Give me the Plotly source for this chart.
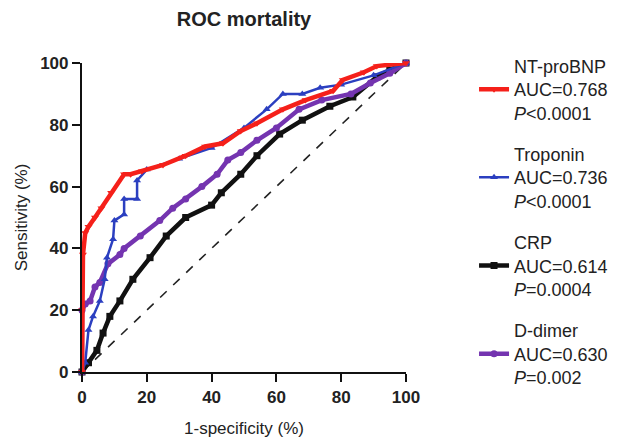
import plotly.graph_objects as go

# 1-specificity (%) and sensitivity (%)
fpr_nt = [0, 0, 0.3, 1, 2, 4, 6, 9, 13, 15, 18.5, 25, 32, 38, 43.5, 49, 54, 62, 69, 77.5, 80.5, 87, 91, 100]
tpr_nt = [0, 20, 38, 45, 47, 50, 53, 58, 64, 64, 65, 67, 70, 73, 74, 78, 80.5, 85, 88, 91, 94.5, 97, 99, 100]

fpr_tr = [0, 1, 2, 3.4, 5.5, 7, 7.7, 9.6, 10, 13, 13, 17, 17, 20, 30, 40, 50, 57, 62, 68, 73.5, 80, 90, 100]
tpr_tr = [0, 3, 13.6, 18, 23, 30, 37, 43, 49, 51, 56, 56, 62, 65.5, 69, 72.5, 79, 85, 90, 90, 92, 93, 96, 100]

fpr_crp = [0, 2, 4.6, 6.5, 8.6, 11.7, 15.7, 21, 26, 32, 40, 43, 49, 54, 61, 68, 76.5, 83.6, 91, 95, 100]
tpr_crp = [0, 3, 7, 12.6, 18, 23, 30, 37, 44, 50, 54, 58, 64, 70, 77, 81.5, 86, 89, 95.5, 97.7, 100]

fpr_dd = [0, 0, 1, 2.5, 4, 5.5, 8, 11.7, 13, 18, 24, 28, 32, 37, 41.7, 45, 49, 54, 60, 67, 74, 83, 89, 95, 100]
tpr_dd = [0, 20, 22, 23, 27.5, 29, 35, 38, 40, 44, 49, 53, 56, 60, 64, 68.6, 71, 75, 79, 85, 88, 90, 93.5, 96.7, 100]

names = ["NT-proBNP<br>AUC=0.768<br><i>P</i><0.0001",
         "Troponin<br>AUC=0.736<br><i>P</i><0.0001",
         "CRP<br>AUC=0.614<br><i>P</i>=0.0004",
         "D-dimer<br>AUC=0.630<br><i>P</i>=0.002"]
ticks = [0, 20, 40, 60, 80, 100]

fig = go.Figure()
fig.add_trace(go.Scatter(x=[0, 100], y=[0, 100], mode="lines", showlegend=False,
                         line=dict(color="#222222", width=1.6, dash="dash"), hoverinfo="skip"))

specs = [
    (fpr_crp, tpr_crp, names[2], "#111111", "square", 3, 4.5),
    (fpr_dd, tpr_dd, names[3], "#7434b0", "circle", 4, 4.5),
    (fpr_tr, tpr_tr, names[1], "#2b3fc0", "triangle-up", 2, 2.5),
    (fpr_nt, tpr_nt, names[0], "#f5201a", "triangle-down", 1, 4.5),
]
for x, y, n, c, sym, rank, w in specs:
    fig.add_trace(go.Scatter(
        x=x, y=y, name=n, mode="lines+markers", legendrank=rank, legendgroup=n,
        line=dict(color=c, width=w), marker=dict(symbol=sym, size=7, color=c),
        cliponaxis=False))

axis_common = dict(range=[0, 100], tickvals=ticks, showgrid=False, zeroline=False,
                   showline=True, linecolor="#111111", linewidth=2.2,
                   ticks="outside", ticklen=8, tickwidth=2.2, tickcolor="#111111",
                   tickfont=dict(family="Liberation Sans, Arial", size=17, color="#222222", weight="bold"))

fig.update_layout(
    width=618, height=438,
    margin=dict(l=82, r=212, t=63, b=66, autoexpand=False),
    paper_bgcolor="white", plot_bgcolor="white",
    font=dict(family="Liberation Sans, Arial", color="#222222"),
    title=dict(text="<b>ROC mortality</b>", x=0.5, xref="paper", xanchor="center",
               y=1 - 19 / 438, yref="container", yanchor="middle",
               font=dict(size=20, color="#222222")),
    xaxis=dict(**axis_common, title=dict(text="1-specificity (%)", standoff=24,
                                         font=dict(size=17))),
    yaxis=dict(**axis_common, title=dict(text="Sensitivity (%)", standoff=8,
                                         font=dict(size=17))),
    legend=dict(x=1.21, xanchor="left", y=1.05, yanchor="top", maxheight=436,
                font=dict(size=18, color="#222222"), tracegroupgap=15,
                bgcolor="rgba(0,0,0,0)", itemwidth=30),
)
fig.update_xaxes(automargin=False)
fig.update_yaxes(automargin=False)

fig.write_html("out.html")
